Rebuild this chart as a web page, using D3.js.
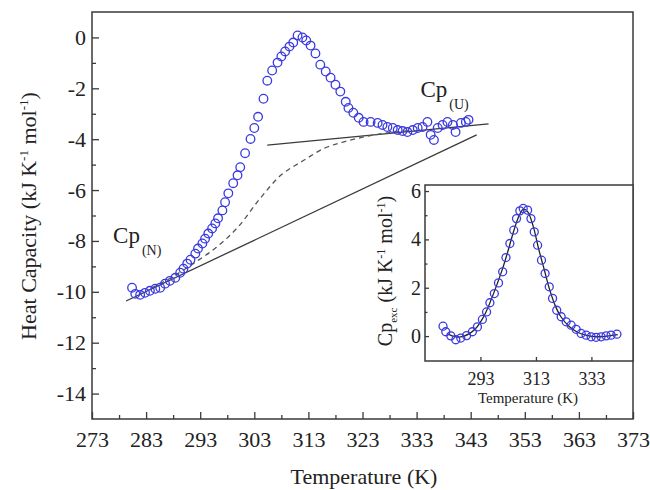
<!DOCTYPE html>
<html>
<head>
<meta charset="utf-8">
<script src="https://cdn.jsdelivr.net/npm/d3@7"></script>
<style>
  body { margin: 0; background: #fff; }
  text { font-family: "Liberation Serif", "Times New Roman", serif; fill: #222; }
</style>
</head>
<body>
<div id="chart"></div>
<script>
// main curve: measured heat capacity
var mainTemp = [280.4,281.0,281.9,282.8,283.7,284.7,285.6,286.5,287.4,288.4,
  289.3,289.9,290.6,291.2,292.1,292.6,293.4,293.9,294.5,295.2,
  295.8,296.3,297.1,297.6,298.2,299.1,299.9,300.4,301.3,302.3,
  303.0,303.7,304.7,305.4,306.3,307.3,308.0,308.7,309.5,310.2,
  311.0,311.9,312.6,313.4,314.3,315.2,316.2,317.1,318.0,318.9,
  319.9,320.4,321.3,322.3,323.2,324.5,325.8,326.7,327.6,328.6,
  329.5,330.4,331.3,332.3,333.2,334.1,335.0,335.6,336.2,336.9,
  337.8,338.7,339.7,340.2,341.2,342.1,342.6];
var mainCp = [-9.84,-10.08,-10.12,-10.04,-9.96,-9.88,-9.84,-9.68,-9.57,-9.45,
  -9.25,-9.09,-8.89,-8.74,-8.50,-8.30,-8.10,-7.91,-7.71,-7.51,
  -7.31,-7.11,-6.80,-6.48,-6.13,-5.73,-5.42,-5.10,-4.55,-3.99,
  -3.56,-3.12,-2.41,-1.70,-1.30,-0.99,-0.75,-0.55,-0.36,-0.20,
  0.08,0.00,-0.12,-0.32,-0.63,-1.07,-1.34,-1.58,-1.86,-2.13,
  -2.53,-2.77,-2.96,-3.16,-3.32,-3.32,-3.36,-3.44,-3.52,-3.56,
  -3.64,-3.68,-3.72,-3.64,-3.56,-3.52,-3.32,-3.83,-4.03,-3.56,
  -3.44,-3.32,-3.44,-3.72,-3.36,-3.32,-3.24];

// baselines
var nativeTemp = [279.3, 344.1], nativeCp = [-10.36, -3.83];
var unfoldTemp = [305.4, 346.3], unfoldCp = [-4.23, -3.40];
var progTemp = [284, 288, 292, 296, 300, 304, 308, 312, 316, 320, 324, 328, 332];
var progCp = [-9.85, -9.4, -8.85, -8.25, -7.45, -6.35, -5.4, -4.85, -4.35, -4.08, -3.88, -3.74, -3.66];

// inset: excess heat capacity and fit
var insetTemp = [279.5,280.5,282.3,284.1,285.9,288.0,290.1,291.9,293.7,295.2,
  296.4,298.0,299.5,301.0,302.2,303.6,305.0,306.0,307.2,308.4,
  310.0,311.2,312.4,313.6,315.0,316.3,317.8,319.0,320.5,322.1,
  323.9,325.7,327.5,329.3,331.1,332.9,334.7,336.5,338.3,340.1,342.2];
var insetCp = [0.41,0.18,0.01,-0.15,-0.08,0.02,0.18,0.38,0.69,1.00,
  1.38,1.76,2.20,2.66,3.25,3.83,4.38,4.86,5.18,5.28,
  5.21,4.86,4.31,3.76,3.14,2.59,2.04,1.56,1.07,0.80,
  0.59,0.45,0.28,0.11,0.04,-0.03,-0.05,-0.03,0.01,0.04,0.08];
var fitTemp = [281,283,285,287,289,291,293,295,297,299,301,303,305,307,308.5,310,312,314,316,318,320,322,325,328,331,334,337,340,342.5];
var fitCp = [0.10,0.0,-0.04,0.0,0.1,0.28,0.58,1.0,1.55,2.15,2.8,3.55,4.35,5.0,5.25,5.15,4.55,3.6,2.75,1.9,1.25,0.8,0.4,0.16,0.04,-0.02,-0.02,0.02,0.06];

// tick values
var xMajor = d3.range(273, 374, 10), xMinor = d3.range(278, 373, 10);
var yMajor = d3.range(-14, 1, 2), yMinor = d3.range(-13, 1, 2);
var inXMajor = [293, 313, 333];
var inYMajor = [0, 2, 4, 6], inYMinor = [1, 3, 5];

var blue = "#3a3ae0", grey = "#3a3a3a";
var plain = function(d) { return String(d); };   // hyphen minus like the original

var margin = {top: 12, right: 17, bottom: 71, left: 92},
    width = 650 - margin.left - margin.right,
    height = 490 - margin.top - margin.bottom;

var root = d3.select("#chart").append("svg")
    .attr("width", 650).attr("height", 490);
var svg = root.append("g")
    .attr("transform", "translate(" + margin.left + "," + margin.top + ")");

var x = d3.scaleLinear().domain([273, 373]).range([0, width]);
var y = d3.scaleLinear().domain([-15, 1]).range([height, 0]);

// frame
svg.append("rect").attr("width", width).attr("height", height)
    .attr("fill", "none").attr("stroke", grey).attr("stroke-width", 1.5);

// axes with inward ticks
function styleAxis(g, size) {
  g.select(".domain").remove();
  g.selectAll("line").attr("stroke", grey).attr("stroke-width", 1.3);
  g.selectAll("text").style("font-size", size + "px").attr("fill", "#222");
}
svg.append("g").attr("transform", "translate(0," + height + ")")
    .call(d3.axisBottom(x).tickValues(xMajor).tickSize(-7).tickPadding(12).tickFormat(plain))
    .call(styleAxis, 22);
svg.append("g").attr("transform", "translate(0," + height + ")")
    .call(d3.axisBottom(x).tickValues(xMinor).tickSize(-4).tickFormat(""))
    .call(styleAxis, 22);
svg.append("g")
    .call(d3.axisLeft(y).tickValues(yMajor).tickSize(-7).tickPadding(6).tickFormat(plain))
    .call(styleAxis, 22);
svg.append("g")
    .call(d3.axisLeft(y).tickValues(yMinor).tickSize(-4).tickFormat(""))
    .call(styleAxis, 22);

// axis titles
root.append("text")
    .attr("x", 364).attr("y", 484)
    .attr("text-anchor", "middle")
    .style("font-size", "22px")
    .text("Temperature (K)");

var yt = root.append("text")
    .attr("transform", "translate(36," + 216 + ") rotate(-90)")
    .attr("text-anchor", "middle")
    .style("font-size", "22px");
yt.append("tspan").text("Heat Capacity (kJ K");
yt.append("tspan").attr("dy", -8).style("font-size", "13px").text("-1");
yt.append("tspan").attr("dy", 8).text(" mol");
yt.append("tspan").attr("dy", -8).style("font-size", "13px").text("-1");
yt.append("tspan").attr("dy", 8).text(")");

// baselines
var line = d3.line().x(function(d){ return x(d[0]); }).y(function(d){ return y(d[1]); });
svg.append("path").datum(d3.zip(nativeTemp, nativeCp)).attr("d", line)
    .attr("fill", "none").attr("stroke", grey).attr("stroke-width", 1.3);
svg.append("path").datum(d3.zip(unfoldTemp, unfoldCp)).attr("d", line)
    .attr("fill", "none").attr("stroke", grey).attr("stroke-width", 1.3);
svg.append("path").datum(d3.zip(progTemp, progCp))
    .attr("d", line.curve(d3.curveCatmullRom))
    .attr("fill", "none").attr("stroke", "#555").attr("stroke-width", 1.3)
    .attr("stroke-dasharray", "5,4");
line.curve(d3.curveLinear);

// data circles
svg.selectAll(".pt").data(d3.zip(mainTemp, mainCp)).enter()
  .append("circle")
    .attr("cx", function(d){ return x(d[0]); })
    .attr("cy", function(d){ return y(d[1]); })
    .attr("r", 4.3)
    .attr("fill", "none").attr("stroke", blue).attr("stroke-width", 1.3);

// labels
function cpLabel(px, py, sub) {
  var t = svg.append("text").attr("x", px).attr("y", py).style("font-size", "23px");
  t.append("tspan").text("Cp");
  t.append("tspan").attr("dx", 2).attr("dy", 12).style("font-size", "14px").text(sub);
}
cpLabel(x(276.9), y(-8.1), "(N)");
cpLabel(x(333.7), y(-2.33), "(U)");

// ---- inset ----
var inset = {left: 425, top: 185, width: 208, height: 176};
var ig = root.append("g").attr("transform", "translate(" + inset.left + "," + inset.top + ")");
var ix = d3.scaleLinear().domain([273, 348]).range([0, inset.width]);
var iy = d3.scaleLinear().domain([-1.03, 6.25]).range([inset.height, 0]);

ig.append("rect").attr("width", inset.width).attr("height", inset.height)
    .attr("fill", "#fff").attr("stroke", grey).attr("stroke-width", 1.5);

ig.append("g").attr("transform", "translate(0," + inset.height + ")")
    .call(d3.axisBottom(ix).tickValues(inXMajor).tickSize(-4).tickPadding(11).tickFormat(plain))
    .call(styleAxis, 18);
ig.append("g")
    .call(d3.axisLeft(iy).tickValues(inYMajor).tickSize(-4).tickPadding(4).tickFormat(plain))
    .call(styleAxis, 20);
ig.append("g")
    .call(d3.axisLeft(iy).tickValues(inYMinor).tickSize(-2.5).tickFormat(""))
    .call(styleAxis, 20);

root.append("text")
    .attr("x", 528).attr("y", 403)
    .attr("text-anchor", "middle")
    .style("font-size", "15px")
    .text("Temperature (K)");

var it = root.append("text")
    .attr("transform", "translate(392," + 271 + ") rotate(-90)")
    .attr("text-anchor", "middle")
    .style("font-size", "20px");
it.append("tspan").text("Cp");
it.append("tspan").attr("dy", 5).style("font-size", "11px").text("exc");
it.append("tspan").attr("dy", -5).text(" (kJ K");
it.append("tspan").attr("dy", -7).style("font-size", "12px").text("-1");
it.append("tspan").attr("dy", 7).text(" mol");
it.append("tspan").attr("dy", -7).style("font-size", "12px").text("-1");
it.append("tspan").attr("dy", 7).text(")");

ig.append("path").datum(d3.zip(fitTemp, fitCp))
    .attr("d", d3.line().curve(d3.curveCatmullRom)
      .x(function(d){ return ix(d[0]); }).y(function(d){ return iy(d[1]); }))
    .attr("fill", "none").attr("stroke", "#222").attr("stroke-width", 1.3);

ig.selectAll(".ipt").data(d3.zip(insetTemp, insetCp)).enter()
  .append("circle")
    .attr("cx", function(d){ return ix(d[0]); })
    .attr("cy", function(d){ return iy(d[1]); })
    .attr("r", 4)
    .attr("fill", "none").attr("stroke", blue).attr("stroke-width", 1.3);
</script>
</body>
</html>
